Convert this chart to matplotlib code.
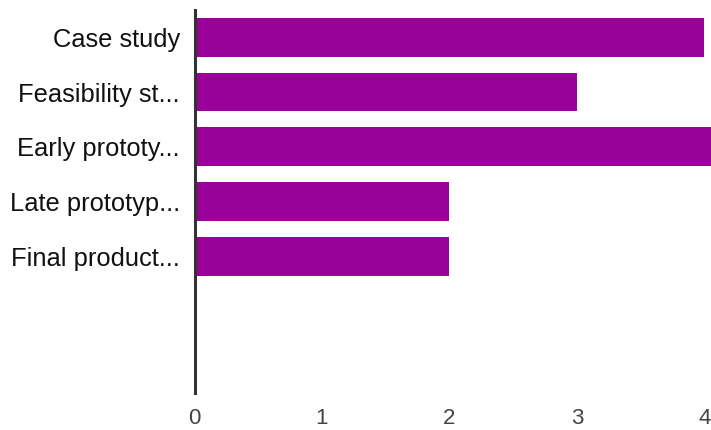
import matplotlib
matplotlib.use("Agg")
import matplotlib.pyplot as plt

plt.rcParams['font.family'] = ['Liberation Sans', 'DejaVu Sans']

categories = ["Case study", "Feasibility st...", "Early prototy...",
              "Late prototyp...", "Final product..."]
counts = [4, 3, 5, 2, 2]
x_ticks = [0, 1, 2, 3, 4]

W, H = 711, 430
fig = plt.figure(figsize=(W / 100, H / 100), dpi=100)
ax = fig.add_axes([194.5 / W, 1 - 393 / H, (W - 194.5) / W, (393 - 10) / H])

n_slots = 7
ypos = list(range(len(categories)))
ax.barh(ypos, counts, height=0.71, color="#990099", zorder=2)

ax.set_ylim(n_slots - 0.5, -0.5)
ax.set_xlim(0, 4.051)

ax.set_yticks(ypos)
ax.set_yticklabels(categories, fontsize=18.4, color="#111111")
ax.set_xticks(x_ticks)
ax.set_xticklabels([str(t) for t in x_ticks], fontsize=16, color="#444444")
ax.tick_params(axis="y", length=0, pad=10.5)
ax.tick_params(axis="x", length=0, pad=10.5)

for s in ["top", "right", "bottom"]:
    ax.spines[s].set_visible(False)
ax.spines["left"].set_linewidth(2.2)
ax.spines["left"].set_color("#333333")
ax.spines["left"].set_zorder(3)

fig.savefig("out.png", dpi=100)
